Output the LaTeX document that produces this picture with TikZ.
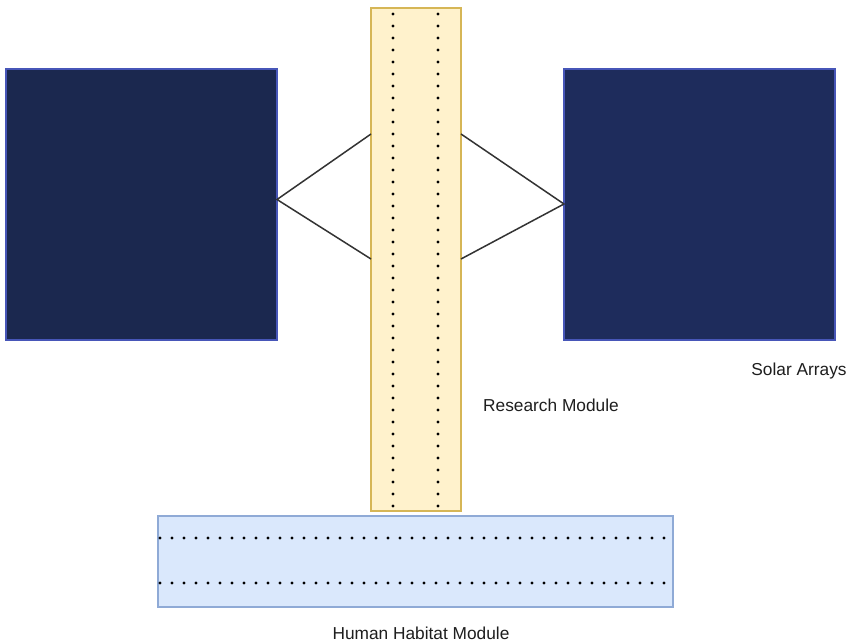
\documentclass[tikz,border=0pt]{standalone}
\usepackage{fontspec}
\setmainfont{Liberation Sans}
\begin{document}
\begin{tikzpicture}[x=1pt,y=-1pt,
  panel/.style={draw=#1, line width=1.2pt, inner sep=0pt, minimum width=271pt, minimum height=271pt},
  resbox/.style={draw=resborder, fill=resfill, line width=1.2pt, inner sep=0pt, minimum width=90pt, minimum height=503pt},
  habbox/.style={draw=habborder, fill=habfill, line width=1.2pt, inner sep=0pt, minimum width=515pt, minimum height=91pt},
  dotline/.style={line width=3.2pt, line cap=round, dash pattern=on 0pt off 12pt, black},
  strut/.style={draw=strutcol, line width=1.5pt},
  lbl/.style={font=\fontsize{17.3}{20}\selectfont, text=labelcol, inner sep=0pt}]
\definecolor{panelA}{HTML}{1B284F}
\definecolor{panelB}{HTML}{1E2C5C}
\definecolor{panelborder}{HTML}{4756B8}
\definecolor{resfill}{HTML}{FFF2CC}
\definecolor{resborder}{HTML}{D6B656}
\definecolor{habfill}{HTML}{DAE8FC}
\definecolor{habborder}{HTML}{8FAAD6}
\definecolor{strutcol}{HTML}{333333}
\definecolor{labelcol}{HTML}{1E1E1E}
\useasboundingbox[fill=white] (0,0) rectangle (853,643);
% solar panels
\node[panel=panelborder, fill=panelA] (left) at (141.5,204.5) {};
\node[panel=panelborder, fill=panelB] (right) at (699.5,204.5) {};
% research module
\node[resbox] (res) at (416,259.5) {};
% habitat module
\node[habbox] (hab) at (415.5,561.5) {};
% dotted lines
\coordinate (rd1a) at (393,14);
\coordinate (rd1b) at (393,511);
\coordinate (rd2a) at (438,14);
\coordinate (rd2b) at (438,511);
\draw[dotline] (rd1a) -- (rd1b);
\draw[dotline] (rd2a) -- (rd2b);
\coordinate (hd1a) at (160,538);
\coordinate (hd1b) at (670,538);
\coordinate (hd2a) at (160,583);
\coordinate (hd2b) at (670,583);
\draw[dotline] (hd1a) -- (hd1b);
\draw[dotline] (hd2a) -- (hd2b);
% struts
\coordinate (lapex) at (277,199.5);
\coordinate (rapex) at (564,204);
\coordinate (rwt) at (371,134);
\coordinate (rwb) at (371,259);
\coordinate (ret) at (461,134);
\coordinate (reb) at (461,259);
\draw[strut] (rwt) -- (lapex) -- (rwb);
\draw[strut] (ret) -- (rapex) -- (reb);
% labels
\node[lbl] (lsolar) at (799,371.5) {Solar Arrays};
\node[lbl] (lres) at (551,405.5) {Research Module};
\node[lbl] (lhab) at (421,633) {Human Habitat Module};
\end{tikzpicture}
\end{document}
